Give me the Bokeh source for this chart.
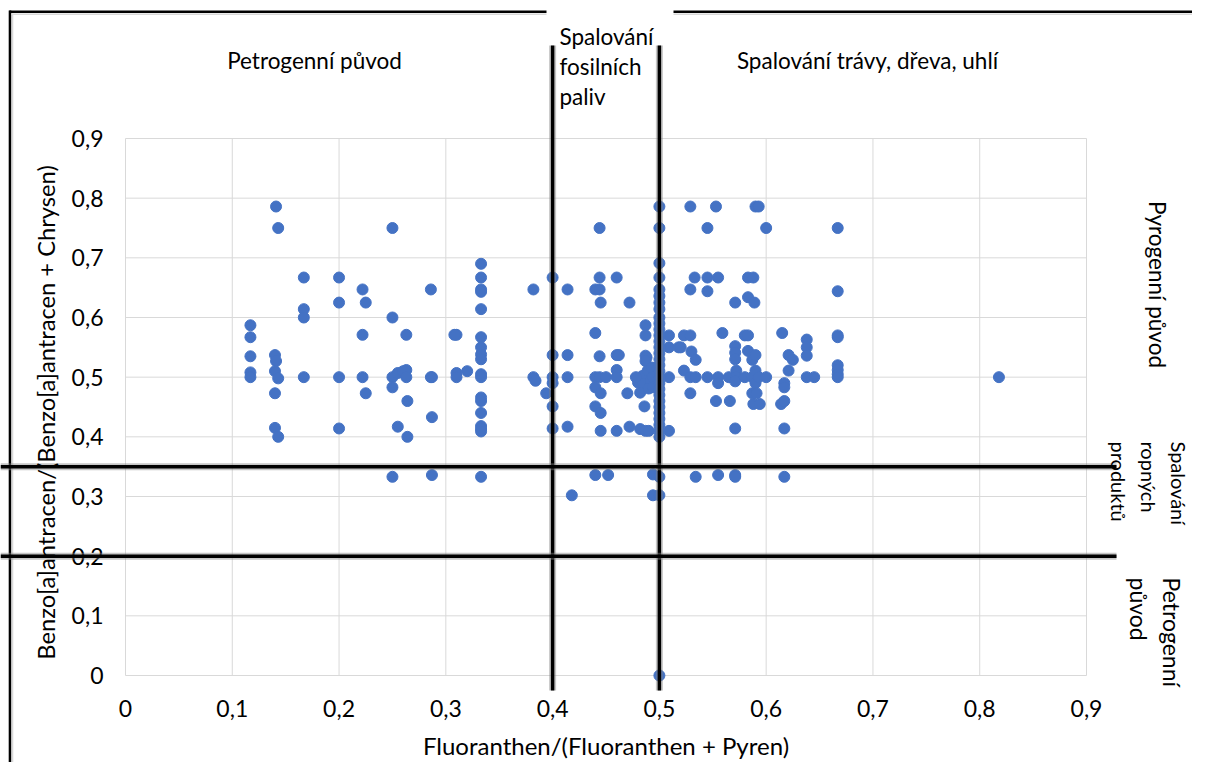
from bokeh.plotting import figure
from bokeh.models import Range1d, Label, ColumnDataSource
from bokeh.core.properties import value
from bokeh.embed import file_html
from bokeh.resources import INLINE
import math

# ---------------- data ----------------
fluoranthen_ratio = [
    0.117, 0.117, 0.117, 0.117, 0.117,
    0.14, 0.141, 0.14, 0.143, 0.14, 0.14, 0.143, 0.141, 0.143,
    0.167, 0.167, 0.167, 0.167,
    0.2, 0.2, 0.2, 0.2,
    0.222, 0.222, 0.222, 0.225, 0.225,
    0.25, 0.25, 0.25, 0.255, 0.26, 0.263, 0.263, 0.25, 0.255, 0.264, 0.264, 0.263, 0.25,
    0.286, 0.287, 0.286, 0.287, 0.287,
    0.31, 0.308, 0.31, 0.31, 0.32,
    0.333, 0.333, 0.333, 0.333, 0.333, 0.333, 0.333, 0.333, 0.333, 0.333,
    0.333, 0.333, 0.333, 0.333, 0.333, 0.333, 0.333, 0.333,
    0.382, 0.382, 0.384, 0.394,
    0.4, 0.4, 0.4, 0.4, 0.4, 0.4,
    0.414, 0.414, 0.414, 0.414, 0.418,
    0.44, 0.444, 0.444, 0.444, 0.445, 0.44, 0.444, 0.44, 0.444, 0.45, 0.44, 0.445,
    0.44, 0.445, 0.445, 0.44, 0.452,
    0.46, 0.46, 0.462, 0.46, 0.46, 0.46,
    0.472, 0.47, 0.472,
    0.487, 0.487, 0.487, 0.488, 0.487, 0.486, 0.482, 0.487, 0.49, 0.494, 0.494,
    0.484, 0.489, 0.493, 0.48, 0.485, 0.492, 0.482, 0.49, 0.494, 0.494, 0.478,
    0.5, 0.5, 0.5, 0.5, 0.5, 0.5, 0.5, 0.5, 0.5, 0.5, 0.5, 0.5, 0.5, 0.5, 0.5, 0.5,
    0.5, 0.5, 0.5, 0.5, 0.5, 0.5, 0.5, 0.5, 0.5, 0.5, 0.5, 0.5, 0.5, 0.5, 0.5, 0.5,
    0.509, 0.509, 0.509, 0.509, 0.518, 0.52,
    0.523, 0.523, 0.529, 0.53, 0.534,
    0.529, 0.529, 0.529, 0.529,
    0.533, 0.534, 0.534,
    0.545, 0.545, 0.545, 0.545,
    0.553, 0.555, 0.555, 0.555, 0.553, 0.555,
    0.559, 0.565, 0.566,
    0.571, 0.571, 0.571, 0.571, 0.572, 0.572, 0.571, 0.571, 0.571, 0.571,
    0.58, 0.58,
    0.583, 0.588, 0.583, 0.583, 0.583,
    0.587, 0.587, 0.587, 0.588,
    0.589, 0.59, 0.59, 0.59, 0.591,
    0.59, 0.593, 0.593, 0.594,
    0.6, 0.6,
    0.614, 0.615, 0.617, 0.617, 0.617, 0.617, 0.617,
    0.621, 0.621, 0.625,
    0.638, 0.638, 0.638, 0.638, 0.645,
    0.667, 0.667, 0.667, 0.667, 0.667, 0.667, 0.667, 0.667,
    0.818,
]
benzo_ratio = [
    0.587, 0.567, 0.535, 0.508, 0.5,
    0.537, 0.527, 0.51, 0.498, 0.473, 0.415, 0.4, 0.786, 0.75,
    0.667, 0.614, 0.6, 0.5,
    0.667, 0.625, 0.5, 0.414,
    0.647, 0.571, 0.5, 0.625, 0.473,
    0.75, 0.6, 0.5, 0.507, 0.51, 0.512, 0.5, 0.483, 0.417, 0.4, 0.46, 0.571, 0.333,
    0.647, 0.5, 0.5, 0.433, 0.336,
    0.571, 0.571, 0.507, 0.5, 0.51,
    0.69, 0.667, 0.647, 0.643, 0.614, 0.567, 0.55, 0.538, 0.53, 0.505,
    0.5, 0.466, 0.46, 0.44, 0.418, 0.413, 0.409, 0.333,
    0.647, 0.5, 0.494, 0.473,
    0.667, 0.537, 0.5, 0.49, 0.451, 0.414,
    0.647, 0.537, 0.5, 0.417, 0.302,
    0.647, 0.647, 0.667, 0.75, 0.625, 0.574, 0.535, 0.5, 0.5, 0.5, 0.483, 0.473,
    0.451, 0.44, 0.41, 0.336, 0.336,
    0.667, 0.537, 0.537, 0.512, 0.5, 0.41,
    0.625, 0.473, 0.417,
    0.587, 0.57, 0.536, 0.533, 0.527, 0.451, 0.413, 0.41, 0.41, 0.337, 0.302,
    0.502, 0.511, 0.516, 0.491, 0.489, 0.494, 0.474, 0.481, 0.5, 0.483, 0.5,
    0.786, 0.75, 0.691, 0.667, 0.647, 0.636, 0.625, 0.614, 0.6, 0.59, 0.58, 0.57, 0.56, 0.55, 0.54, 0.53,
    0.52, 0.51, 0.5, 0.49, 0.48, 0.47, 0.46, 0.45, 0.44, 0.43, 0.42, 0.41, 0.4, 0.333, 0.302, 0.0,
    0.57, 0.55, 0.5, 0.41, 0.55, 0.55,
    0.57, 0.511, 0.57, 0.543, 0.529,
    0.786, 0.647, 0.473, 0.5,
    0.667, 0.5, 0.333,
    0.75, 0.667, 0.644, 0.5,
    0.786, 0.667, 0.5, 0.49, 0.46, 0.336,
    0.574, 0.5, 0.46,
    0.625, 0.552, 0.541, 0.53, 0.511, 0.5, 0.493, 0.414, 0.336, 0.333,
    0.57, 0.5,
    0.667, 0.667, 0.634, 0.57, 0.544,
    0.529, 0.5, 0.473, 0.455,
    0.625, 0.537, 0.511, 0.49, 0.473,
    0.786, 0.786, 0.5, 0.455,
    0.75, 0.5,
    0.455, 0.574, 0.49, 0.483, 0.46, 0.414, 0.333,
    0.537, 0.511, 0.529,
    0.563, 0.55, 0.536, 0.5, 0.5,
    0.75, 0.644, 0.57, 0.567, 0.52, 0.512, 0.505, 0.5,
    0.5,
]

tick_values = [0, 0.1, 0.2, 0.3, 0.4, 0.5, 0.6, 0.7, 0.8, 0.9]
tick_labels = ["0", "0,1", "0,2", "0,3", "0,4", "0,5", "0,6", "0,7", "0,8", "0,9"]

x_title = "Fluoranthen/(Fluoranthen + Pyren)"
y_title = "Benzo[a]antracen/(Benzo[a]antracen + Chrysen)"

fla_thresholds = [0.4, 0.5]     # vertical dividing lines
baa_thresholds = [0.35, 0.2]    # horizontal dividing lines

top_labels = ["Petrogenní původ", "Spalování\nfosilních\npaliv", "Spalování trávy, dřeva, uhlí"]
side_labels = ["Pyrogenní původ", "Spalování\nropných\nproduktů", "Petrogenní\npůvod"]

# ---------------- layout ----------------
FONT = "Lato"
W, H = 1192, 762
PL, PT, PW, PH = 125, 138, 961, 537     # plot-area left/top/width/height in canvas px
AX_MIN, AX_MAX = 0.0, 0.9


def dx(cx):   # canvas px -> data x
    return AX_MIN + (cx - PL) / PW * (AX_MAX - AX_MIN)


def dy(cy):   # canvas px -> data y
    return AX_MIN + (PT + PH - cy) / PH * (AX_MAX - AX_MIN)


p = figure(
    width=W, height=H, frame_width=W, frame_height=H,
    min_border=0, min_border_left=0, min_border_right=0,
    min_border_top=0, min_border_bottom=0,
    x_range=Range1d(dx(0), dx(W)), y_range=Range1d(dy(H), dy(0)),
    x_axis_type=None, y_axis_type=None,
    output_backend="svg", toolbar_location=None,
    background_fill_color="white", border_fill_color="white",
)
p.outline_line_color = None
p.grid.visible = False

GRID = "#D9D9D9"

# ---------------- chart border (outer frame of the picture) ----------------
p.segment(x0=[dx(9.5), dx(9)], y0=[dy(10), dy(11.3)], x1=[dx(9.5), dx(W + 5)], y1=[dy(H + 5), dy(11.3)],
          line_color="black", line_width=2.6)
p.segment(x0=[dx(12), dx(11)], y0=[dy(13), dy(13.8)], x1=[dx(12), dx(W + 5)], y1=[dy(H + 5), dy(13.8)],
          line_color=GRID, line_width=1.6)
p.quad(left=[dx(546)], right=[dx(673)], top=[dy(0)], bottom=[dy(17)],
       fill_color="white", line_alpha=0)

n = len(tick_values)
# vertical and horizontal gridlines of the value axes
p.segment(x0=tick_values, y0=[AX_MIN] * n, x1=tick_values, y1=[AX_MAX] * n,
          line_color=GRID, line_width=1)
p.segment(x0=[AX_MIN] * n, y0=tick_values, x1=[AX_MAX] * n, y1=tick_values,
          line_color=GRID, line_width=1)

# tick labels
TICK_FS = "23px"
p.text(x=tick_values, y=[AX_MIN] * n, text=tick_labels, y_offset=33,
       text_align="center", text_baseline="middle", text_font=value(FONT),
       text_font_size=TICK_FS, text_color="black")
p.text(x=[AX_MIN] * n, y=tick_values, text=tick_labels, x_offset=-22,
       text_align="right", text_baseline="middle", text_font=value(FONT),
       text_font_size=TICK_FS, text_color="black")

# axis titles
p.add_layout(Label(x=(AX_MIN + AX_MAX) / 2, y=AX_MIN, y_offset=-70, text=x_title,
                   text_font=FONT, text_font_size="24px", text_color="black",
                   text_align="center", text_baseline="middle"))
p.add_layout(Label(x=AX_MIN, y=dy(412), x_offset=-80, text=y_title,
                   text_font=FONT, text_font_size="23.7px", text_color="black",
                   text_align="center", text_baseline="middle", angle=math.pi / 2))

# data points
src = ColumnDataSource(data=dict(x=fluoranthen_ratio, y=benzo_ratio))
p.scatter("x", "y", source=src, marker="circle", size=11,
          fill_color="#4472C4", line_color="#4472C4", line_width=1)

# thick dividing lines (drawn over the points)
m = len(fla_thresholds)
for lw, col, a in ((7, "#808080", 0.45), (3.5, "black", 1.0)):
    p.segment(x0=fla_thresholds, y0=[dy(45)] * m, x1=fla_thresholds, y1=[dy(690)] * m,
              line_color=col, line_width=lw, line_alpha=a)
k = len(baa_thresholds)
for lw, col, a in ((7, "#808080", 0.45), (3.5, "black", 1.0)):
    p.segment(x0=[dx(0)] * k, y0=baa_thresholds, x1=[dx(1116)] * k, y1=baa_thresholds,
              line_color=col, line_width=lw, line_alpha=a)


# ---------------- region labels ----------------
def lab(text, cx, cy, size="22.5px", align="center", angle=0.0, lh=1.2):
    p.add_layout(Label(x=dx(cx), y=dy(cy), text=text, text_font=FONT,
                       text_font_size=size, text_color="black",
                       text_align=align, text_baseline="middle", angle=angle,
                       text_line_height=lh))


lab(top_labels[0], 314, 60)
lab(top_labels[1], 559, 66, align="left", lh=1.11)
lab(top_labels[2], 867, 60)
lab(side_labels[0], 1157, 284, angle=-math.pi / 2)
lab(side_labels[1], 1148, 441, size="20px", align="left", angle=-math.pi / 2, lh=1.25)
lab(side_labels[2], 1155, 577, size="23px", align="left", angle=-math.pi / 2, lh=1.16)

open("out.html", "w").write(file_html(p, INLINE))
